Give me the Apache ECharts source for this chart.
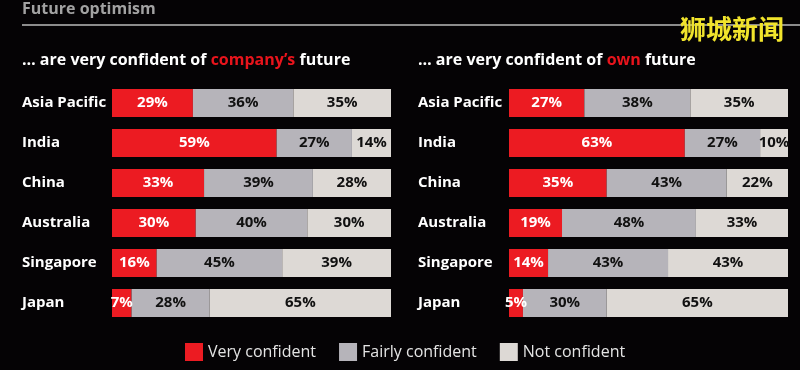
<!DOCTYPE html>
<html><head><meta charset="utf-8">
<script src="https://cdn.jsdelivr.net/npm/echarts@6/dist/echarts.min.js"></script>
<style>html,body{margin:0;padding:0;background:#050305;}#c{width:800px;height:370px;}</style>
</head><body><div id="c"></div>
<script>
const categories = ['Asia Pacific','India','China','Australia','Singapore','Japan'];
const seriesNames = ['Very confident','Fairly confident','Not confident'];
const companyVery = [29,59,33,30,16,7];
const companyFairly = [36,27,39,40,45,28];
const companyNot = [35,14,28,30,39,65];
const ownVery = [27,63,35,19,14,5];
const ownFairly = [38,27,43,48,43,30];
const ownNot = [35,10,22,33,43,65];

const colors = ['#ec1b22','#b6b4ba','#ddd9d5'];
const labelColors = ['#ffffff','#111111','#111111'];
const FONT = '"Open Sans", sans-serif';

function mk(name, data, idx, gi){
  return {
    name: name, type:'bar', stack:'s'+gi, xAxisIndex:gi, yAxisIndex:gi,
    data:data, barWidth:28, itemStyle:{color:colors[idx]},
    label:{show:true, position:'inside', formatter:'{c}%', color:labelColors[idx],
      fontFamily:FONT, fontWeight:'bold', fontSize:15},
    emphasis:{disabled:true}
  };
}

const sub = {a:{color:'#ffffff', fontFamily:FONT, fontWeight:'bold', fontSize:16},
             r:{color:'#e8141c', fontFamily:FONT, fontWeight:'bold', fontSize:16}};

const chart = echarts.init(document.getElementById('c'), null, {renderer:'canvas'});
chart.setOption({
  backgroundColor:'#050305',
  animation:false,
  title:[
    {text:'Future optimism', left:22, top:1, padding:0, textStyle:{color:'#a2a2a2', fontFamily:FONT, fontWeight:'bold', fontSize:16}},
    {text:'{a|… are very confident of }{r|company\u2019s}{a| future}', left:22, top:52, padding:0, textStyle:{rich:sub}},
    {text:'{a|… are very confident of }{r|own}{a| future}', left:418, top:52, padding:0, textStyle:{rich:sub}}
  ],
  graphic:[
    {type:'line', shape:{x1:22,y1:25,x2:800,y2:25}, style:{stroke:'#8c8c8c', lineWidth:2}},
    {type:'text', left:680, top:16, style:{text:'狮城新闻', fill:'#f1e42c', font:'bold 26px "Noto Sans CJK SC"',
      shadowColor:'rgba(0,0,0,0.8)', shadowBlur:2, shadowOffsetX:1, shadowOffsetY:1}}
  ],
  legend:{
    data:seriesNames, left:185, top:343, padding:0, itemWidth:18, itemHeight:18, itemGap:23,
    icon:'rect', textStyle:{color:'#e4e4e4', fontFamily:FONT, fontSize:16}, selectedMode:false
  },
  grid:[
    {left:112, top:83, width:279, height:240},
    {left:509, top:83, width:279, height:240}
  ],
  xAxis:[
    {gridIndex:0, type:'value', min:0, max:100, show:false},
    {gridIndex:1, type:'value', min:0, max:100, show:false}
  ],
  yAxis:[0,1].map(gi=>({
    gridIndex:gi, type:'category', data:categories, inverse:true,
    axisLine:{show:false}, axisTick:{show:false}, splitLine:{show:false},
    axisLabel:{align:'left', margin:gi===0?90:91, color:'#ffffff', fontFamily:FONT, fontWeight:'bold', fontSize:15}
  })),
  series:[
    mk(seriesNames[0], companyVery, 0, 0),
    mk(seriesNames[1], companyFairly, 1, 0),
    mk(seriesNames[2], companyNot, 2, 0),
    mk(seriesNames[0], ownVery, 0, 1),
    mk(seriesNames[1], ownFairly, 1, 1),
    mk(seriesNames[2], ownNot, 2, 1)
  ]
});
</script></body></html>
